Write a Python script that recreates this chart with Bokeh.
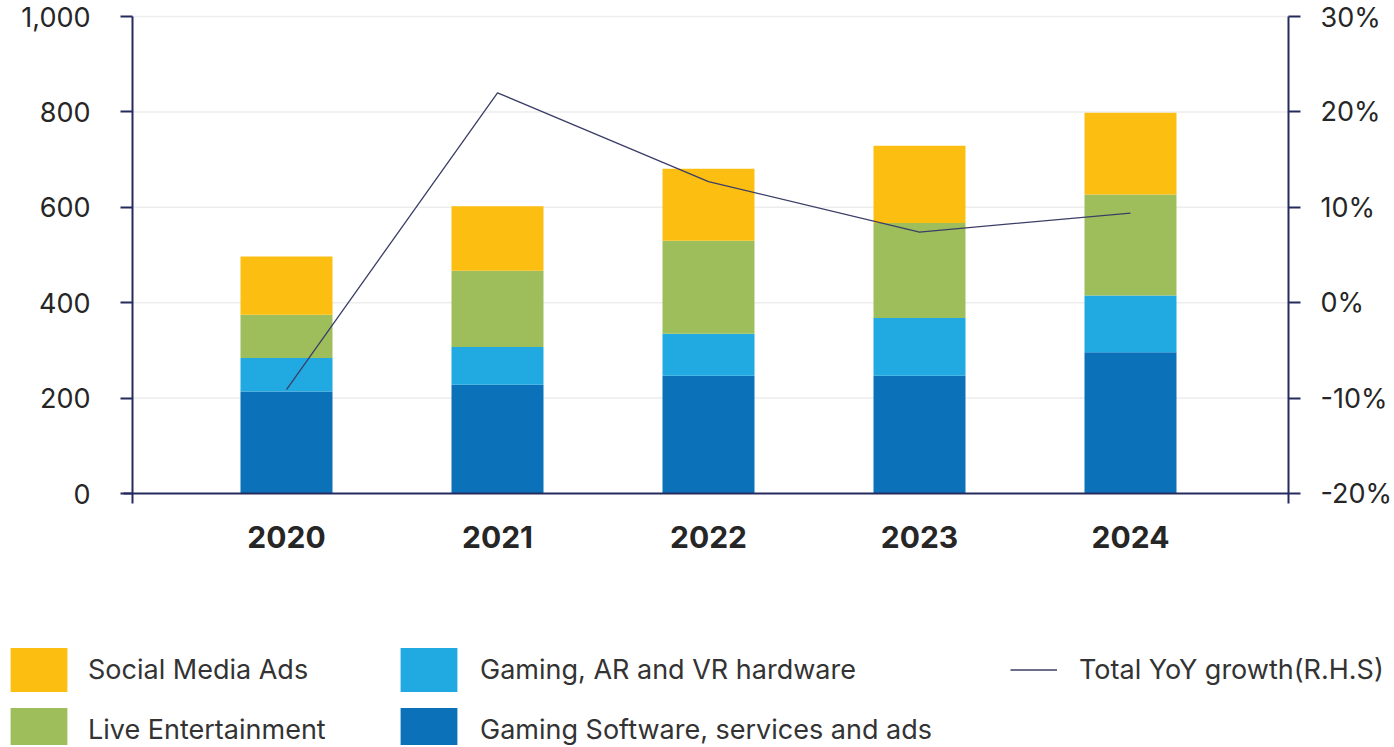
from bokeh.plotting import figure
from bokeh.models import (ColumnDataSource, Range1d, LinearAxis, FixedTicker,
                          NumeralTickFormatter, PrintfTickFormatter, Legend, LegendItem)
from bokeh.embed import file_html
from bokeh.resources import INLINE

# ---------------- data ----------------
years = ["2020", "2021", "2022", "2023", "2024"]
gaming_software = [214, 228, 247, 247, 296]
gaming_hardware = [70, 79, 88, 121, 119]
live_entertainment = [91, 160, 195, 199, 212]
social_media_ads = [122, 135, 151, 162, 171]
yoy_growth = [-9.1, 22.0, 12.7, 7.4, 9.4]

left_ticks = [0, 200, 400, 600, 800, 1000]
right_ticks = [-20, -10, 0, 10, 20, 30]

series_names = ["Gaming Software, services and ads", "Gaming, AR and VR hardware",
                "Live Entertainment", "Social Media Ads"]
line_name = "Total YoY growth(R.H.S)"

# ---------------- layout constants (pixels) ----------------
W, H = 1394, 745
PLOT_LEFT_PX, PLOT_RIGHT_PX = 132, 1288      # where the two value axes stand
BASE_PX, TOP_PX = 493, 16                    # y of value 0 and value 1000
FIRST_CAT_PX, CAT_STEP_PX = 286, 211         # centre of first bar, bar pitch

y_lo, y_hi = left_ticks[0], left_ticks[-1]
p_lo, p_hi = right_ticks[0], right_ticks[-1]
ppu = (BASE_PX - TOP_PX) / (y_hi - y_lo)     # pixels per unit (left scale)

def px_to_x(px):
    return (px - FIRST_CAT_PX) / CAT_STEP_PX

def px_to_y(py):
    return y_lo + (BASE_PX - py) / ppu

def y_to_pct(v):
    return p_lo + (v - y_lo) * (p_hi - p_lo) / (y_hi - y_lo)

C_SOFT = "#0b71b9"
C_HW = "#21a9e1"
C_LIVE = "#9ebe5b"
C_SOC = "#fdbe12"
C_LINE = "#3b3e66"
C_AXIS = "#262b5e"
C_GRID = "#ededed"
FONT = "Inter"
colors = [C_SOFT, C_HW, C_LIVE, C_SOC]

xs = list(range(len(years)))
src = ColumnDataSource(dict(x=xs, soft=gaming_software, hw=gaming_hardware,
                            live=live_entertainment, soc=social_media_ads,
                            g=yoy_growth))

y_start, y_end = px_to_y(H), px_to_y(0)
p = figure(width=W, height=H, output_backend="svg", toolbar_location=None,
           x_range=Range1d(px_to_x(0), px_to_x(W)), y_range=Range1d(y_start, y_end),
           x_axis_location=None, y_axis_location=None,
           min_border=0, outline_line_color=None)
p.extra_y_ranges = {"pct": Range1d(y_to_pct(y_start), y_to_pct(y_end))}
p.grid.visible = False

x_left, x_right = px_to_x(PLOT_LEFT_PX), px_to_x(PLOT_RIGHT_PX)

# horizontal grid lines (only between the two value axes)
gticks = left_ticks[1:]
p.segment(x0=[x_left] * len(gticks), x1=[x_right] * len(gticks), y0=gticks, y1=gticks,
          line_color=C_GRID, line_width=1.5)

bars = p.vbar_stack(["soft", "hw", "live", "soc"], x="x", width=0.436,
                    color=colors, line_color=None, source=src)
ln = p.line("x", "g", source=src, y_range_name="pct", line_color=C_LINE, line_width=1.3)

# ---------------- axes ----------------
xa = LinearAxis(ticker=FixedTicker(ticks=xs), fixed_location=y_lo,
                bounds=(px_to_x(PLOT_LEFT_PX - 9), x_right))
xa.major_label_overrides = {i: y for i, y in enumerate(years)}
xa.major_tick_line_color = None
xa.minor_tick_line_color = None
xa.axis_line_color = C_AXIS
xa.axis_line_width = 2
xa.major_label_text_font = FONT
xa.major_label_text_font_style = "bold"
xa.major_label_text_font_size = "30px"
xa.major_label_text_color = "#262626"
xa.major_label_standoff = 26
p.add_layout(xa, "below")

ext = 10 / ppu  # the value axes run a little below zero
la = LinearAxis(ticker=FixedTicker(ticks=left_ticks), formatter=NumeralTickFormatter(format="0,0"),
                fixed_location=x_left, bounds=(y_lo - ext, y_hi))
ra = LinearAxis(y_range_name="pct", ticker=FixedTicker(ticks=right_ticks),
                formatter=PrintfTickFormatter(format="%d%%"), fixed_location=x_right,
                bounds=(p_lo - ext * (p_hi - p_lo) / (y_hi - y_lo), p_hi))
p.add_layout(la, "left")
p.add_layout(ra, "right")

for ax in (la, ra):
    ax.axis_line_color = C_AXIS
    ax.axis_line_width = 2
    ax.major_tick_line_color = C_AXIS
    ax.major_tick_line_width = 2
    ax.major_tick_out = 12
    ax.major_tick_in = 0
    ax.minor_tick_line_color = None
    ax.major_label_text_font = FONT
    ax.major_label_text_font_size = "27px"
    ax.major_label_text_color = "#262626"
la.major_label_standoff = 30
ra.major_label_standoff = 20

# ---------------- legend (three columns) ----------------
LEG_TOP_PX = 641.5
GLYPH_H, ROW_GAP = 55, 5

def make_legend(items, left_px, glyph_w, standoff):
    n = len(items)
    h = n * GLYPH_H + (n - 1) * ROW_GAP
    lg = Legend(items=items, orientation="vertical",
                location=(left_px, H - LEG_TOP_PX - h),
                glyph_width=glyph_w, glyph_height=GLYPH_H, label_standoff=standoff,
                spacing=ROW_GAP, padding=0, margin=0, border_line_color=None,
                background_fill_alpha=0, label_text_font=FONT, label_text_font_size="27px",
                label_text_color="#333333", label_height=GLYPH_H)
    p.add_layout(lg, "center")

make_legend([LegendItem(label=series_names[3], renderers=[bars[3]]),
             LegendItem(label=series_names[2], renderers=[bars[2]])], 3, 71, 14)
make_legend([LegendItem(label=series_names[1], renderers=[bars[1]]),
             LegendItem(label=series_names[0], renderers=[bars[0]])], 393, 71, 16)
make_legend([LegendItem(label=line_name, renderers=[ln])], 1010, 47, 22)

open("out.html", "w").write(file_html(p, INLINE))
